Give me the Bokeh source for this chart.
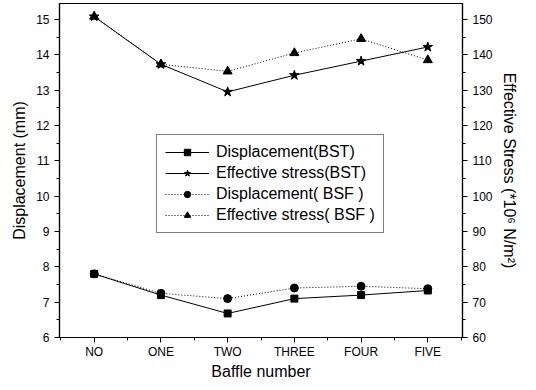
from bokeh.plotting import figure
from bokeh.models import Range1d, LinearAxis, FixedTicker, Legend, LegendItem
from bokeh.embed import file_html
from bokeh.resources import INLINE

categories = ["NO", "ONE", "TWO", "THREE", "FOUR", "FIVE"]
disp_bst = [7.8, 7.2, 6.68, 7.1, 7.2, 7.33]
stress_bst = [150.8, 137.3, 129.5, 134.2, 138.2, 142.2]
disp_bsf = [7.8, 7.25, 7.1, 7.4, 7.45, 7.38]
stress_bsf = [150.8, 137.3, 135.3, 140.5, 144.5, 138.5]

xs = list(range(len(categories)))
FONT = "Liberation Sans"

p = figure(width=520, height=382, output_backend="svg", toolbar_location=None,
           x_range=Range1d(-0.52, 5.52), y_range=Range1d(6, 15.45),
           min_border_left=59, min_border_right=49, min_border_top=3, min_border_bottom=40)
p.extra_y_ranges = {"stress": Range1d(60, 154.5)}
p.grid.visible = False
p.outline_line_color = "black"
p.outline_line_width = 1.2
p.background_fill_color = "white"

def style_axis(ax):
    ax.axis_line_color = "black"
    ax.axis_line_width = 1.2
    ax.major_tick_line_color = "black"
    ax.minor_tick_line_color = "black"
    ax.major_tick_out = 5
    ax.major_tick_in = 0
    ax.minor_tick_out = 3
    ax.minor_tick_in = 0
    ax.major_label_text_font = FONT
    ax.major_label_text_font_size = "12px"
    ax.major_label_text_color = "black"
    ax.axis_label_text_font = FONT
    ax.axis_label_text_font_size = "16px"
    ax.axis_label_text_font_style = "normal"
    ax.axis_label_text_color = "black"

p.xaxis.ticker = FixedTicker(ticks=xs, minor_ticks=[i + 0.5 for i in range(-1, 6)])
p.xaxis.major_label_overrides = {i: c for i, c in enumerate(categories)}
p.xaxis.axis_label = "Baffle number"
p.yaxis.ticker = FixedTicker(ticks=list(range(6, 16)), minor_ticks=[i + 0.5 for i in range(6, 16)])
p.yaxis.axis_label = "Displacement (mm)"

right = LinearAxis(y_range_name="stress", axis_label="Effective Stress (*10\u2076 N/m\u00b2)",
                   ticker=FixedTicker(ticks=list(range(60, 151, 10)), minor_ticks=list(range(65, 156, 10))))
p.add_layout(right, "right")
for ax in [p.xaxis[0], p.yaxis[0], right]:
    style_axis(ax)
p.xaxis.major_label_standoff = 2
p.xaxis.axis_label_standoff = 1

l1 = p.line(xs, disp_bst, line_color="black", line_width=1)
m1 = p.scatter(xs, disp_bst, marker="square", size=7, color="black")
l2 = p.line(xs, stress_bst, y_range_name="stress", line_color="black", line_width=1)
m2 = p.scatter(xs, stress_bst, y_range_name="stress", marker="star", size=10, color="black")
l3 = p.line(xs, disp_bsf, line_color="black", line_width=1, line_dash="1 2")
m3 = p.scatter(xs, disp_bsf, marker="circle", size=8, color="black")
l4 = p.line(xs, stress_bsf, y_range_name="stress", line_color="black", line_width=1, line_dash="1 2")
m4 = p.scatter(xs, stress_bsf, y_range_name="stress", marker="triangle", size=9, color="black")

legend = Legend(items=[
    LegendItem(label="Displacement(BST)", renderers=[l1, m1]),
    LegendItem(label="Effective stress(BST)", renderers=[l2, m2]),
    LegendItem(label="Displacement( BSF )", renderers=[l3, m3]),
    LegendItem(label="Effective stress( BSF )", renderers=[l4, m4]),
], location=(97, 104))
legend.label_text_font = FONT
legend.label_text_font_size = "16px"
legend.label_text_color = "black"
legend.border_line_color = "black"
legend.border_line_width = 1
legend.glyph_width = 44
legend.glyph_height = 16
legend.label_height = 16
legend.spacing = 3
legend.padding = 8
legend.margin = 0
legend.label_standoff = 7
p.add_layout(legend, "center")

open("out.html", "w").write(file_html(p, INLINE))
